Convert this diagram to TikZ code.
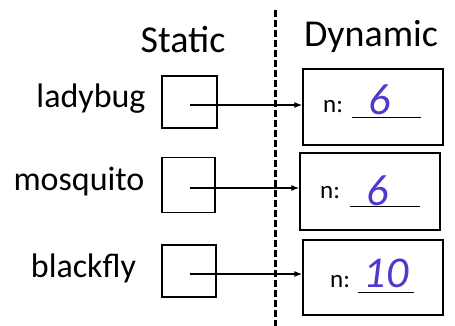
\documentclass[tikz,border=0pt]{standalone}
\usepackage{fontspec}
\setmainfont{Carlito}
\usetikzlibrary{arrows.meta}
\definecolor{ink}{RGB}{80,55,205}
\begin{document}
\begin{tikzpicture}[x=1pt,y=-1pt,
  sq/.style={draw,line width=1.3pt,inner sep=0pt},
  dbox/.style={draw,line width=1.5pt,inner sep=0pt,minimum width=140pt},
  lbl/.style={font=\fontsize{34}{38}\selectfont,inner sep=0pt,anchor=base},
  head/.style={font=\fontsize{38}{42}\selectfont,inner sep=0pt,anchor=base},
  ntext/.style={font=\fontsize{25}{28}\selectfont,inner sep=0pt,anchor=base west},
  hand/.style={font=\itshape\fontsize{44}{48}\selectfont,text=ink,inner sep=0pt,anchor=base},
  ptr/.style={line width=1.2pt,-{Latex[length=8pt,width=6pt]}},
  uline/.style={line width=1pt},
  divider/.style={line width=3pt,dash pattern=on 7pt off 3pt}]
\useasboundingbox (0,0) rectangle (455,326);
% divider
\coordinate (dt) at (275,10);
\coordinate (db) at (275,326);
\draw[divider] (dt) -- (db);
% headings
\node[head] (st) at (183,53) {Static};
\node[head] (dy) at (371,47) {Dynamic};
% labels
\node[lbl] (l1) at (91,108) {ladybug};
\node[lbl] (l2) at (79,190) {mosquito};
\node[lbl] (l3) at (83.5,277) {blackfly};
% static squares
\node[sq,minimum width=55pt,minimum height=52pt] (s1) at (189.5,102) {};
\node[sq,minimum width=53pt,minimum height=55pt] (s2) at (188.5,185) {};
\node[sq,minimum width=54pt,minimum height=52pt] (s3) at (189,271) {};
% dynamic boxes
\node[dbox,minimum height=76pt] (d1) at (373,107) {};
\node[dbox,minimum height=77pt] (d2) at (370,191.5) {};
\node[dbox,minimum height=75pt] (d3) at (373,277.5) {};
% pointers
\coordinate (a1) at (190,105);
\coordinate (a2) at (190,188);
\coordinate (a3) at (190,274);
\draw[ptr] (a1) -- (a1 -| d1.west);
\draw[ptr] (a2) -- (a2 -| d2.west);
\draw[ptr] (a3) -- (a3 -| d3.west);
% contents
\node[ntext] (n1) at (323,113) {n:};
\node[ntext] (n2) at (320,198) {n:};
\node[ntext] (n3) at (330,287) {n:};
\coordinate (u1a) at (352,118); \coordinate (u1b) at (421,118);
\coordinate (u2a) at (350,206); \coordinate (u2b) at (420,206);
\coordinate (u3a) at (358,292); \coordinate (u3b) at (414,292);
\draw[uline] (u1a) -- (u1b);
\draw[uline] (u2a) -- (u2b);
\draw[uline] (u3a) -- (u3b);
\node[hand] (v1) at (380,115) {6};
\node[hand] (v2) at (378,205) {6};
\node[hand] (v3) at (386,287) {10};
\end{tikzpicture}
\end{document}
